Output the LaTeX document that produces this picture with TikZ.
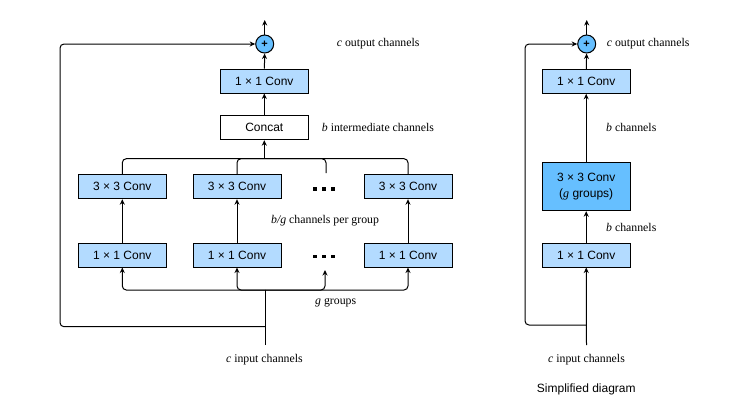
\documentclass[tikz,border=0pt]{standalone}
\usepackage{fontspec}
\setmainfont{Liberation Serif}
\setsansfont{Liberation Sans}
\usetikzlibrary{arrows.meta}
\definecolor{lightb}{HTML}{B3DBFF}
\definecolor{darkb}{HTML}{66BFFF}
\begin{document}
\begin{tikzpicture}[x=1pt,y=-1pt,
  every node/.style={inner sep=0pt},
  convbox/.style={draw=black,line width=1pt,fill=lightb,minimum width=88pt,minimum height=24pt,font=\sffamily\fontsize{12}{13}\selectfont,align=center},
  whitebox/.style={convbox,fill=white},
  darkbox/.style={convbox,fill=darkb,minimum height=48pt,font=\sffamily\fontsize{12}{16}\selectfont},
  plusnode/.style={circle,draw=black,line width=1pt,fill=darkb,minimum size=18pt,font=\sffamily\bfseries\fontsize{11}{11}\selectfont},
  lbl/.style={font=\fontsize{11.8}{13}\selectfont},
  line/.style={draw=black,line width=1pt,rounded corners=4pt},
  arr/.style={line,-{Stealth[length=5.5pt,width=5pt]}},
  dot/.style={fill=black,minimum size=3.6pt}]
\useasboundingbox (0,0) rectangle (744,416);

% ---------- left diagram ----------
\node[plusnode] (plus) at (264.7,44) {+};
\coordinate (out) at (264.7,20);
\node[convbox] (ctop) at (264.3,81) {1 × 1 Conv};
\node[whitebox] (concat) at (264.3,127.7) {Concat};
\node[convbox] (t1) at (122.3,186.7) {3 × 3 Conv};
\node[convbox] (t2) at (237,186.7) {3 × 3 Conv};
\node[convbox] (t4) at (408,186.7) {3 × 3 Conv};
\node[convbox] (b1) at (122.3,255) {1 × 1 Conv};
\node[convbox] (b2) at (237,255) {1 × 1 Conv};
\node[convbox] (b4) at (408,255) {1 × 1 Conv};
\node[dot] (d1) at (315,189) {};
\node[dot] (d2) at (324,189) {};
\node[dot] (d3) at (333,189) {};
\node[dot] (e1) at (315,256.5) {};
\node[dot] (e2) at (324,256.5) {};
\node[dot] (e3) at (333,256.5) {};

\coordinate (in) at (265,345);
\coordinate (jb) at (265,290);
\coordinate (jt) at (264.3,158.7);
\coordinate (dt) at (326,173);
\coordinate (db) at (325,270);
\coordinate (sk) at (265,326.7);
\coordinate (lc) at (60,44);

\draw[line] (in) -- (jb);
\draw[arr] (jb) -| (b1.south);
\draw[arr] (jb) -| (b2.south);
\draw[arr] (jb) -| (db);
\draw[arr] (jb) -| (b4.south);
\draw[arr] (b1) -- (t1);
\draw[arr] (b2) -- (t2);
\draw[arr] (b4) -- (t4);
\draw[line] (t1.north) |- (jt);
\draw[line] (t2.north) |- (jt);
\draw[line] (dt) |- (jt);
\draw[line] (t4.north) |- (jt);
\draw[arr] (jt) -- (concat);
\draw[arr] (concat) -- (ctop);
\draw[arr] (ctop) -- (plus);
\draw[arr] (plus) -- (out);
\draw[arr] (sk) -| (lc) -- (plus);

\node[lbl,anchor=west] (lo) at (336.7,44) {\textit{c} output channels};
\node[lbl,anchor=west] (li) at (321.7,127.7) {\textit{b} intermediate channels};
\node[lbl,anchor=west] (lg) at (271,221) {\textit{b/g} channels per group};
\node[lbl,anchor=west] (lgg) at (315,303) {\textit{g} groups};
\node[lbl] (lin) at (264.4,360) {\textit{c} input channels};

% ---------- right diagram ----------
\node[plusnode] (plusR) at (586.7,44) {+};
\coordinate (outR) at (586.7,20);
\node[convbox] (cR1) at (586.2,81.3) {1 × 1 Conv};
\node[darkbox] (gR) at (586.2,186.7) {3 × 3 Conv\\(\textit{\rmfamily g} groups)};
\node[convbox] (cR2) at (586.2,255) {1 × 1 Conv};
\coordinate (inR) at (586.5,345);
\coordinate (skR) at (586.5,325);
\coordinate (lcR) at (525,44);

\draw[arr] (inR) -- (cR2);
\draw[arr] (cR2) -- (gR);
\draw[arr] (gR) -- (cR1);
\draw[arr] (cR1) -- (plusR);
\draw[arr] (plusR) -- (outR);
\draw[arr] (skR) -| (lcR) -- (plusR);

\node[lbl,anchor=west] (loR) at (606.7,44) {\textit{c} output channels};
\node[lbl,anchor=west] (lb1) at (606,127.7) {\textit{b} channels};
\node[lbl,anchor=west] (lb2) at (606,227.7) {\textit{b} channels};
\node[lbl] (linR) at (586.5,360) {\textit{c} input channels};
\node[font=\sffamily\fontsize{12}{14}\selectfont] (simp) at (586.3,389.3) {Simplified diagram};
\end{tikzpicture}
\end{document}
